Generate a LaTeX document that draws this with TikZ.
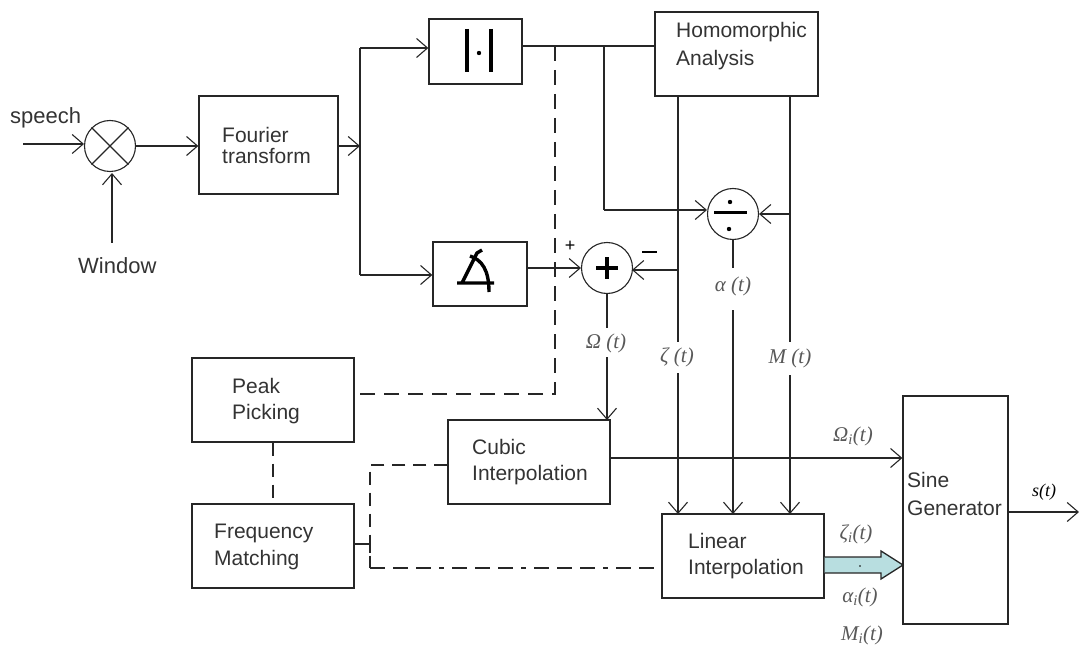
\documentclass[tikz,border=0pt]{standalone}
\usepackage{fontspec}
\setmainfont{Liberation Sans}
\newfontfamily\symf{Liberation Serif}
\usetikzlibrary{arrows.meta,calc}
\tikzset{
  boxn/.style={draw=black!85,line width=1.3pt,rectangle,inner sep=0pt,minimum width=#1},
  circn/.style={draw=black!85,line width=1.1pt,circle,inner sep=0pt,minimum size=51pt,fill=white},
  lbl/.style={inner sep=0pt,anchor=west,font=\fontsize{21}{24}\selectfont,text=black!80},
  mathl/.style={inner sep=1pt,font=\symf\itshape\fontsize{21}{24}\selectfont,text=black!65,fill=white},
  wire/.style={draw=black!85,line width=1.3pt},
  arr/.style={wire,-{Straight Barb[length=11pt,width=19pt,line width=1.1pt]}},
  dsh/.style={wire,dash pattern=on 15pt off 9pt},
  glyph/.style={draw=black,line width=3.4pt}
}
\begin{document}
\begin{tikzpicture}[x=1pt,y=-1pt]
\useasboundingbox (0,0) rectangle (1079,647);
% boxes
\node[boxn=139pt,minimum height=98pt] (fourier) at (268.5,145) {};
\node[boxn=93pt,minimum height=65pt] (abs) at (475.5,51.5) {};
\node[boxn=94pt,minimum height=64pt] (ang) at (480,274) {};
\node[boxn=163pt,minimum height=84pt] (homo) at (736.5,54) {};
\node[boxn=162pt,minimum height=84pt] (peak) at (273,400) {};
\node[boxn=162pt,minimum height=84pt] (freq) at (273,546) {};
\node[boxn=162pt,minimum height=84pt] (cubic) at (529,462) {};
\node[boxn=162pt,minimum height=84pt] (linear) at (743,556) {};
\node[boxn=105pt,minimum height=228pt] (sine) at (955.5,510) {};
\node[circn] (mult) at (110,146) {};
\node[circn] (plus) at (607,268) {};
\node[circn] (divd) at (733,214) {};
% box texts
\node[lbl] (t1) at (222,135) {Fourier};
\node[lbl] (t2) at (222,156) {transform};
\node[lbl] (t3) at (676,32) {Homomorphic};
\node[lbl] (t4) at (676,60) {Analysis};
\node[lbl] (t5) at (232,386) {Peak};
\node[lbl] (t6) at (232,414) {Picking};
\node[lbl] (t7) at (214,533) {Frequency};
\node[lbl] (t8) at (214,560) {Matching};
\node[lbl] (t9) at (472,447) {Cubic};
\node[lbl] (t10) at (472,475) {Interpolation};
\node[lbl] (t11) at (688,541) {Linear};
\node[lbl] (t12) at (688,569) {Interpolation};
\node[lbl] (t13) at (907,480) {Sine};
\node[lbl] (t14) at (907,508) {Generator};
\node[lbl,font=\fontsize{22}{24}\selectfont] (speech) at (10,118) {speech};
\node[lbl,font=\fontsize{22}{24}\selectfont] (window) at (78,266) {Window};
% glyphs
\draw[glyph] (467,29) -- (467,72) (491,29) -- (491,72);
\fill (479,53) circle (2.2pt);
\draw[glyph] (457,283) -- (494,283) (462,283) -- (477,253) -- (482,250);
\draw[glyph] (470,256) .. controls (482,260) and (489,270) .. (489,292);
\draw[line width=3.4pt] (596,268) -- (618,268) (607,257) -- (607,279);
\draw[line width=3pt] (714,213) -- (747,213);
\fill (730,202) circle (2.2pt) (729,229) circle (2.2pt);
\draw[wire,line width=1.1pt] (mult.45) -- (mult.225) (mult.135) -- (mult.315);
% coordinates
\coordinate (sp0) at (23,144);
\coordinate (win0) at (112,243);
\coordinate (jf) at (360,146);
\coordinate (jtop) at (360,48);
\coordinate (jbot) at (360,275);
\coordinate (jd) at (555,46);
\coordinate (ja) at (604,46);
\coordinate (ja2) at (604,210);
\coordinate (jm) at (678,270);
\coordinate (jdm) at (790,214);
\coordinate (cx) at (370,465);
\coordinate (cy) at (370,568);
\coordinate (ctap) at (370,544);
\coordinate (out) at (1079,512);
% upper wires
\draw[arr] (sp0) -- (84,144);
\draw[arr] (win0) -- (112,173);
\draw[arr] (136,146) -- (fourier.west |- 0,146);
\draw[arr] (338,146) -- (jf);
\draw[wire] (jtop) -- (jbot);
\draw[arr] (jtop) -- (abs.west |- jtop);
\draw[arr] (jbot) -- (ang.west |- jbot);
\draw[wire] (abs.east |- jd) -- (homo.west |- jd);
\draw[wire] (ja) -- (ja2);
\draw[arr] (ja2) -- (707,210);
\draw[arr] (527,268) -- (plus.west);
\draw[arr] (jm) -- (632,270);
\draw[arr] (jdm) -- (divd.east);
% dashed
\draw[dsh] (jd) -- (555,394) -- (peak.east |- 0,394);
\draw[dsh,dash pattern=on 13pt off 8pt] (peak.south) -- (freq.north);
\draw[dsh,dash pattern=on 13pt off 8pt] (cubic.west |- cx) -- (cx) -- (cy);
\draw[wire,dash pattern=on 15pt off 8pt on 15pt off 8pt on 15pt off 8pt on 5pt off 8pt] (cy) -- (linear.west |- cy);
\draw[wire] (freq.east |- ctap) -- (ctap);
\draw[wire] (370,535) -- (370,553);
% vertical wires with label gaps
\draw[wire] (678,96) -- (678,342);
\draw[arr] (678,373) -- (678,514);
\draw[wire] (790,96) -- (790,342);
\draw[arr] (790,375) -- (790,514);
\draw[wire] (divd.south) -- (733,268);
\draw[arr] (733,310) -- (733,514);
\draw[wire] (plus.south) -- (607,328);
\draw[arr] (607,357) -- (607,420);
\draw[arr] (cubic.east |- 0,458) -- (sine.west |- 0,458);
\draw[arr,line width=1.1pt] (sine.east |- out) -- (out);
% teal arrow
\path[fill={rgb,255:red,184;green,222;blue,224}] (linear.east |- 0,557) -- (881,557) -- (881,551) -- (903,565) -- (881,579) -- (881,573) -- (linear.east |- 0,573) -- cycle;
\draw[wire] (linear.east |- 0,557) -- (881,557) -- (881,551) -- (903,565) -- (881,579) -- (881,573) -- (linear.east |- 0,573);
\fill (860,566) circle (0.8pt);
% signs
\node[font=\fontsize{18}{20}\selectfont,inner sep=0pt] (pl) at (570,246) {+};
\draw[line width=1.4pt] (642,252) -- (657,252);
% math labels
\node[mathl] (l1) at (606,343) {Ω (t)};
\node[mathl] (l2) at (677,357) {ζ (t)};
\node[mathl] (l3) at (733,286) {α  (t)};
\node[mathl] (l4) at (790,358) {M  (t)};
\node[mathl] (l5) at (853,436) {Ω\textsubscript{i}(t)};
\node[mathl,fill=none] (l6) at (856,534) {ζ\textsubscript{i}(t)};
\node[mathl,fill=none] (l7) at (860,597) {α\textsubscript{i}(t)};
\node[mathl,fill=none] (l8) at (862,635) {M\textsubscript{i}(t)};
\node[mathl,fill=none,text=black,font=\symf\itshape\fontsize{18}{20}\selectfont] (l9) at (1044,492) {s(t)};
\end{tikzpicture}
\end{document}
